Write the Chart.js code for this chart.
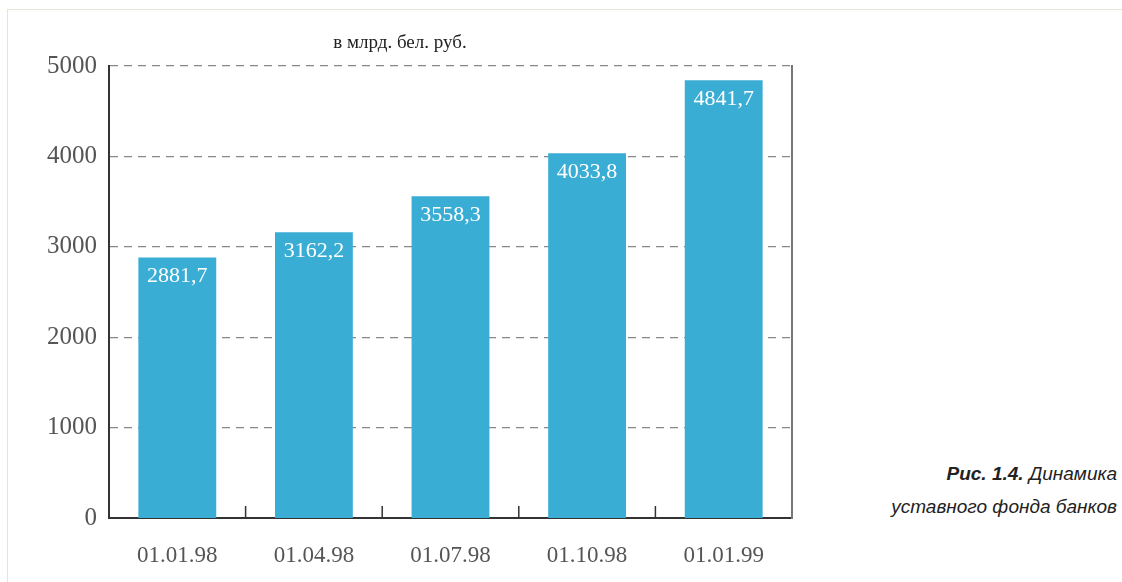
<!DOCTYPE html>
<html>
<head>
<meta charset="utf-8">
<script src="https://cdn.jsdelivr.net/npm/chart.js@4.4.1/dist/chart.umd.min.js"></script>
<style>
  body { margin: 0; background: #fff; width: 1122px; height: 582px; overflow: hidden; position: relative; }
  #frame { position: absolute; left: 7px; top: 9px; right: -5px; bottom: -5px; border: 1px solid #e6e6d8; }
  #wrap { position: absolute; left: 0; top: 0; width: 800px; height: 582px; }
  #units { position: absolute; left: 320px; top: 31px; width: 160px; text-align: center;
    font-family: "Liberation Serif", serif; font-size: 19px; color: #222; }
  #caption { position: absolute; right: 5px; top: 457px; text-align: right;
    font-family: "Liberation Sans", Arial, sans-serif; font-style: italic; font-size: 19px;
    line-height: 33px; color: #222; }
</style>
</head>
<body>
<div id="frame"></div>
<div id="wrap"><canvas id="chart"></canvas></div>
<div id="units">в млрд. бел. руб.</div>
<div id="caption"><b>Рис. 1.4.</b> Динамика<br>уставного фонда банков</div>
<script>
const categories = ['01.01.98', '01.04.98', '01.07.98', '01.10.98', '01.01.99'];
const capital = [2881.7, 3162.2, 3558.3, 4033.8, 4841.7];
const yTicks = [0, 1000, 2000, 3000, 4000, 5000];

const fmt = v => v.toFixed(1).replace('.', ',');

// white value labels inside the top of each bar + small ticks between categories
const extras = {
  id: 'extras',
  afterDatasetsDraw(chart) {
    const ctx = chart.ctx;
    const meta = chart.getDatasetMeta(0);
    ctx.save();
    ctx.fillStyle = '#fff';
    ctx.font = '22px "Liberation Serif", serif';
    ctx.textAlign = 'center';
    ctx.textBaseline = 'top';
    meta.data.forEach((bar, i) => {
      ctx.fillText(fmt(capital[i]), bar.x, bar.y + 8);
    });
    const x = chart.scales.x;
    const bottom = chart.chartArea.bottom;
    ctx.strokeStyle = '#333';
    ctx.lineWidth = 1.5;
    for (let i = 1; i < categories.length; i++) {
      const px = (x.getPixelForValue(i - 1) + x.getPixelForValue(i)) / 2;
      ctx.beginPath();
      ctx.moveTo(px, bottom);
      ctx.lineTo(px, bottom - 12);
      ctx.stroke();
    }
    ctx.restore();
  }
};

new Chart(document.getElementById('chart'), {
  type: 'bar',
  data: {
    labels: categories,
    datasets: [{
      data: capital,
      backgroundColor: '#3aadd5',
      barPercentage: 0.57,
      categoryPercentage: 1
    }]
  },
  options: {
    responsive: true,
    maintainAspectRatio: false,
    animation: false,
    layout: { padding: { top: 66, right: 8, left: 0, bottom: 0 } },
    plugins: { legend: { display: false }, tooltip: { enabled: false } },
    scales: {
      x: {
        grid: { display: false },
        border: { color: '#333', width: 2 },
        ticks: { color: '#555', padding: 16, font: { family: '"Liberation Serif", serif', size: 23 } },
        afterFit: s => { s.height = 64; }
      },
      y: {
        min: 0, max: 5000,
        afterBuildTicks: s => { s.ticks = yTicks.map(v => ({ value: v })); },
        grid: { color: '#888', drawTicks: false, lineWidth: ctx => ctx.tick && ctx.tick.value === 0 ? 0 : 1.3 },
        border: { color: '#333', width: 2, dash: [8, 6] },
        ticks: { color: '#555', padding: 12, callback: v => String(v), font: { family: '"Liberation Serif", serif', size: 25 } },
        afterFit: s => { s.width = 109; }
      },
      y2: {
        position: 'right',
        min: 0, max: 5000,
        grid: { display: false },
        border: { color: '#777', width: 2 },
        ticks: { display: false },
        afterFit: s => { s.width = 0; }
      }
    }
  },
  plugins: [extras]
});
</script>
</body>
</html>
